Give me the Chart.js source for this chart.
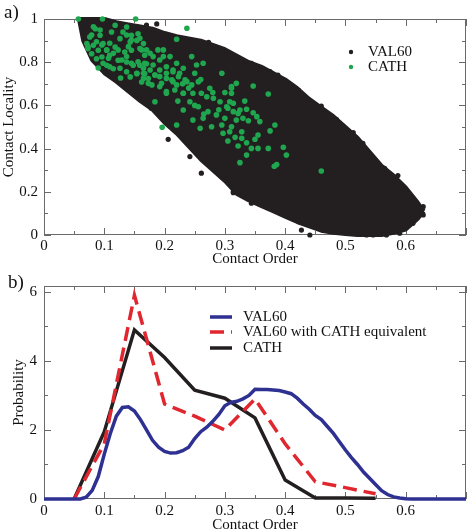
<!DOCTYPE html>
<html>
<head>
<meta charset="utf-8">
<script src="https://cdn.jsdelivr.net/npm/chart.js@4.4.1/dist/chart.umd.min.js"></script>
<style>
  html, body { margin: 0; padding: 0; background: #fff; }
  #wrap { position: relative; width: 469px; height: 531px; font-family: "Liberation Serif", "Times New Roman", serif; }
  canvas { position: absolute; left: 0; }
  #chartA { top: 0; }
  #chartB { top: 270px; }
  .tag { position: absolute; font-size: 19px; line-height: 19px; color: #111; }
</style>
</head>
<body>
<div id="wrap">
  <canvas id="chartA" width="469" height="270" style="width:469px;height:270px"></canvas>
  <canvas id="chartB" width="469" height="261" style="width:469px;height:261px"></canvas>
  <div class="tag" style="left:4px;top:2px">a)</div>
  <div class="tag" style="left:8px;top:272px">b)</div>
</div>
<script>
// ---------- panel a : contact locality vs contact order ----------
// outline of the dense VAL60 cloud (upper and lower edge)
const cloudX      = [0.058, 0.065, 0.08, 0.10, 0.12, 0.14, 0.16, 0.18, 0.20, 0.22, 0.24, 0.26, 0.28, 0.30, 0.32, 0.34, 0.36, 0.38, 0.40, 0.42, 0.44, 0.46, 0.48, 0.50, 0.52, 0.54, 0.56, 0.58, 0.60, 0.62, 0.63];
const cloudTop    = [1.0, 1.0, 1.0, 1.0, 0.985, 0.975, 0.965, 0.955, 0.935, 0.92, 0.91, 0.90, 0.88, 0.86, 0.83, 0.80, 0.78, 0.75, 0.72, 0.68, 0.63, 0.59, 0.55, 0.50, 0.45, 0.385, 0.32, 0.275, 0.22, 0.15, 0.11];
const cloudBottom = [1.0, 0.90, 0.81, 0.75, 0.71, 0.665, 0.62, 0.58, 0.52, 0.47, 0.41, 0.35, 0.30, 0.25, 0.19, 0.16, 0.135, 0.11, 0.085, 0.06, 0.04, 0.02, 0.01, 0.005, 0, 0, 0, 0.01, 0.025, 0.075, 0.11];

// loose VAL60 points round the edge of the cloud
const val60X = [0.170, 0.187, 0.273, 0.206, 0.225, 0.242, 0.261, 0.295, 0.314, 0.325, 0.165, 0.178, 0.314, 0.344, 0.375, 0.388, 0.422, 0.460, 0.485, 0.513, 0.529, 0.565, 0.587, 0.609, 0.629, 0.629, 0.612, 0.601, 0.590, 0.568, 0.546, 0.535, 0.441, 0.427, 0.344, 0.314];
const val60Y = [0.972, 0.977, 0.892, 0.443, 0.478, 0.363, 0.286, 0.270, 0.200, 0.224, 0.625, 0.587, 0.810, 0.795, 0.756, 0.740, 0.671, 0.597, 0.535, 0.474, 0.424, 0.309, 0.275, 0.162, 0.131, 0.093, 0.054, 0.038, 0.008, 0.0, 0.0, 0.0, 0.0, 0.023, 0.147, 0.196];

// CATH proteins
const cathX = [0.057, 0.097, 0.152, 0.090, 0.127, 0.237, 0.220, 0.196, 0.460, 0.386, 0.382,
  0.085, 0.076, 0.093, 0.071, 0.082, 0.098, 0.090, 0.104, 0.079, 0.096, 0.109, 0.118, 0.126, 0.131, 0.143, 0.154, 0.123, 0.134, 0.145, 0.159,
  0.167, 0.137, 0.148, 0.159, 0.170, 0.154, 0.167, 0.143, 0.162, 0.173, 0.104, 0.115, 0.087, 0.073, 0.112, 0.118, 0.137, 0.145, 0.156, 0.165,
  0.162, 0.176, 0.189, 0.198, 0.167, 0.181, 0.192, 0.165, 0.184, 0.203, 0.214, 0.225, 0.212, 0.195, 0.179, 0.220, 0.237, 0.245, 0.256, 0.250,
  0.253, 0.295, 0.275, 0.261, 0.247, 0.231, 0.203, 0.281, 0.292, 0.311, 0.319, 0.303, 0.242, 0.256, 0.272, 0.286, 0.300, 0.314, 0.264, 0.247,
  0.278, 0.295, 0.311, 0.259, 0.297, 0.220, 0.184, 0.231, 0.264, 0.245,
  0.311, 0.347, 0.372, 0.311, 0.308, 0.314, 0.333, 0.305, 0.325, 0.336, 0.322, 0.347, 0.330, 0.339, 0.319, 0.358, 0.353, 0.383, 0.308, 0.328,
  0.375, 0.317, 0.328, 0.355, 0.350, 0.305, 0.336, 0.322, 0.344, 0.355, 0.372, 0.397, 0.402, 0.336, 0.325,
  0.079, 0.087, 0.096, 0.104, 0.109, 0.115, 0.123, 0.107, 0.129, 0.137, 0.145, 0.156, 0.165, 0.176, 0.184, 0.192, 0.203, 0.214, 0.154, 0.165,
  0.173, 0.192, 0.203, 0.217, 0.231, 0.093, 0.082, 0.137, 0.145, 0.159, 0.140, 0.170, 0.181, 0.192, 0.203, 0.214, 0.223, 0.234, 0.198, 0.209,
  0.220, 0.231, 0.126, 0.137, 0.109, 0.098, 0.073,
  0.240, 0.260, 0.270, 0.222, 0.250, 0.280, 0.290, 0.230, 0.265, 0.300];
const cathY = [1.0, 1.0, 1.0, 0.773, 0.727, 0.957, 0.906, 0.499, 0.296, 0.326, 0.318,
  0.955, 0.917, 0.925, 0.886, 0.878, 0.886, 0.855, 0.855, 0.839, 0.824, 0.832, 0.870, 0.909, 0.940, 0.894, 0.901, 0.809, 0.847, 0.855, 0.863,
  0.832, 0.801, 0.786, 0.786, 0.793, 0.747, 0.747, 0.732, 0.708, 0.724, 0.786, 0.770, 0.816, 0.863, 0.940, 0.971, 0.963, 0.925, 0.932, 0.886,
  0.857, 0.841, 0.857, 0.826, 0.795, 0.787, 0.764, 0.749, 0.741, 0.749, 0.756, 0.749, 0.718, 0.702, 0.695, 0.695, 0.710, 0.695, 0.710, 0.749,
  0.787, 0.749, 0.679, 0.656, 0.656, 0.656, 0.656, 0.633, 0.617, 0.679, 0.702, 0.594, 0.617, 0.594, 0.571, 0.556, 0.540, 0.571, 0.540, 0.532,
  0.501, 0.509, 0.501, 0.494, 0.471, 0.509, 0.617, 0.579, 0.795, 0.826,
  0.687, 0.690, 0.653, 0.656, 0.617, 0.610, 0.620, 0.587, 0.579, 0.582, 0.563, 0.566, 0.540, 0.529, 0.532, 0.525, 0.548, 0.509, 0.478, 0.478,
  0.482, 0.452, 0.448, 0.463, 0.443, 0.435, 0.427, 0.412, 0.401, 0.401, 0.401, 0.406, 0.370, 0.370, 0.335,
  0.926, 0.895, 0.880, 0.857, 0.888, 0.841, 0.857, 0.818, 0.810, 0.826, 0.795, 0.802, 0.772, 0.764, 0.741, 0.733, 0.725, 0.710, 0.749, 0.725,
  0.702, 0.687, 0.664, 0.671, 0.656, 0.949, 0.964, 0.926, 0.903, 0.911, 0.872, 0.857, 0.826, 0.810, 0.779, 0.764, 0.733, 0.718, 0.857, 0.826,
  0.795, 0.772, 0.772, 0.756, 0.779, 0.795, 0.872,
  0.680, 0.720, 0.640, 0.620, 0.600, 0.660, 0.580, 0.700, 0.560, 0.660];

// ---------- panel b : probability of contact order ----------
const orderX = [0.00, 0.01, 0.02, 0.03, 0.04, 0.05, 0.06, 0.07, 0.08, 0.09, 0.10, 0.11, 0.12, 0.13, 0.14, 0.15, 0.16, 0.17, 0.18, 0.19,
  0.20, 0.21, 0.22, 0.23, 0.24, 0.25, 0.26, 0.27, 0.28, 0.29, 0.30, 0.31, 0.32, 0.33, 0.34, 0.35, 0.36, 0.37, 0.38, 0.39,
  0.40, 0.41, 0.42, 0.43, 0.44, 0.45, 0.46, 0.47, 0.48, 0.49, 0.50, 0.51, 0.52, 0.53, 0.54, 0.55, 0.56, 0.57, 0.58, 0.59,
  0.60, 0.61, 0.62, 0.63, 0.64, 0.65, 0.66, 0.67, 0.68, 0.69, 0.70];
const val60Prob = [0, 0, 0, 0, 0, 0, 0, 0.05, 0.25, 0.65, 1.3, 1.9, 2.4, 2.65, 2.67, 2.55, 2.3, 2.0, 1.7, 1.5,
  1.38, 1.33, 1.34, 1.4, 1.5, 1.75, 1.95, 2.08, 2.25, 2.45, 2.7, 2.8, 2.83, 2.9, 3.0, 3.18, 3.17, 3.17, 3.16, 3.14,
  3.1, 3.05, 2.92, 2.75, 2.6, 2.42, 2.3, 2.1, 1.9, 1.66, 1.42, 1.2, 1.0, 0.78, 0.6, 0.42, 0.24, 0.13, 0.06, 0.03,
  0.01, 0, 0, 0, 0, 0, 0, 0, 0, 0, 0];
const binX = [0.05, 0.10, 0.15, 0.20, 0.25, 0.30, 0.35, 0.40, 0.45, 0.50, 0.55];
const cathEquivProb = [0, 1.6, 5.9, 2.75, 2.4, 2.0, 2.9, 1.6, 0.5, 0.33, 0.15];
const cathProb = [0, 1.95, 4.9, 4.1, 3.15, 2.92, 2.35, 0.55, 0.03, 0.03, 0.02];

const black = '#231f20';
const green = '#1fa64f';
const blue = '#2e3192';
const red = '#e0262e';
const serif = '"Liberation Serif", "Times New Roman", serif';

Chart.defaults.font.family = serif;
Chart.defaults.color = '#111';

const pts = (xs, ys) => xs.map((x, i) => ({x: x, y: ys[i]}));

// frame on all four sides with inward major/minor ticks, plus a small legend
const frameTicks = {
  id: 'frameTicks',
  beforeDatasetsDraw(chart, args, opts) {
    const {ctx, chartArea: a, scales: {x, y}} = chart;
    ctx.save();
    ctx.strokeStyle = '#6a6a6a';
    ctx.lineWidth = 1;
    ctx.strokeRect(a.left + 0.5, a.top + 0.5, a.right - a.left - 1, a.bottom - a.top - 1);
    ctx.beginPath();
    let n = Math.round((x.max - x.min) / opts.xStep);
    for (let i = 0; i <= n; i++) {
      const p = Math.round(x.getPixelForValue(x.min + i * opts.xStep)) + 0.5;
      const len = i % 2 === 0 ? 7 : 4;
      ctx.moveTo(p, a.bottom); ctx.lineTo(p, a.bottom - len);
      ctx.moveTo(p, a.top); ctx.lineTo(p, a.top + len);
    }
    n = Math.floor((y.max - y.min) / opts.yStep + 1e-6);
    for (let i = 0; i <= n; i++) {
      const p = Math.round(y.getPixelForValue(y.min + i * opts.yStep)) + 0.5;
      const len = i % 2 === 0 ? 7 : 4;
      ctx.moveTo(a.left, p); ctx.lineTo(a.left + len, p);
      ctx.moveTo(a.right, p); ctx.lineTo(a.right - len, p);
    }
    ctx.stroke();
    ctx.restore();
  },
  afterDatasetsDraw(chart, args, opts) {
    const ctx = chart.ctx;
    ctx.save();
    ctx.font = '15px ' + serif;
    ctx.textBaseline = 'middle';
    ctx.fillStyle = '#111';
    opts.legend.forEach(item => {
      if (item.dot) {
        ctx.beginPath();
        ctx.fillStyle = item.color;
        ctx.arc(item.x, item.y, 2.2, 0, Math.PI * 2);
        ctx.fill();
      } else {
        ctx.beginPath();
        ctx.strokeStyle = item.color;
        ctx.lineWidth = 3.5;
        ctx.setLineDash(item.dash || []);
        ctx.moveTo(item.x, item.y);
        ctx.lineTo(item.x + 22, item.y);
        ctx.stroke();
        ctx.setLineDash([]);
      }
      ctx.fillStyle = '#111';
      ctx.fillText(item.label, item.tx, item.y + 0.5);
    });
    ctx.restore();
  }
};

const fmt = v => String(Math.round(v * 100) / 100);

function xScale(fitHeight, labelPad, titlePad) {
  return {
    type: 'linear', min: 0, max: 0.7,
    afterFit: s => { s.height = fitHeight; },
    grid: {display: false, drawTicks: false},
    border: {display: false},
    ticks: {stepSize: 0.1, padding: labelPad, font: {size: 15}, color: '#111',
      callback: v => v > 0.65 ? '' : fmt(v)},
    title: {display: true, text: 'Contact Order', font: {size: 15, lineHeight: 1}, color: '#111',
      padding: {top: 0, bottom: titlePad}}
  };
}

new Chart(document.getElementById('chartA'), {
  type: 'line',
  data: {
    datasets: [
      {label: 'CATH', data: pts(cathX, cathY), showLine: false, pointRadius: 2.8, pointHoverRadius: 2.8,
        pointBackgroundColor: green, pointBorderWidth: 0, order: 0, clip: false},
      {label: 'VAL60', data: pts(val60X, val60Y), showLine: false, pointRadius: 2.6, pointHoverRadius: 2.6,
        pointBackgroundColor: black, pointBorderWidth: 0, order: 1, clip: false},
      {label: 'VAL60 upper', data: pts(cloudX, cloudTop), borderColor: black, borderWidth: 4,
        borderJoinStyle: 'round', pointRadius: 0, fill: false, tension: 0, order: 2, clip: false},
      {label: 'VAL60 lower', data: pts(cloudX, cloudBottom), borderColor: black, borderWidth: 4,
        borderJoinStyle: 'round', pointRadius: 0, fill: '-1', backgroundColor: black, tension: 0, order: 3, clip: false}
    ]
  },
  options: {
    responsive: false, animation: false, events: [],
    layout: {padding: {top: 19, right: 3, left: 0, bottom: 0}},
    plugins: {
      legend: {display: false}, tooltip: {enabled: false},
      frameTicks: {xStep: 0.05, yStep: 0.1, legend: [
        {dot: true, color: black, x: 351, y: 52, tx: 368, label: 'VAL60'},
        {dot: true, color: green, x: 351, y: 67, tx: 368, label: 'CATH'}
      ]}
    },
    scales: {
      x: xScale(35, 2, 3),
      y: {
        min: 0, max: 1,
        afterFit: s => { s.width = 44; },
        grid: {display: false, drawTicks: false},
        border: {display: false},
        ticks: {stepSize: 0.2, padding: 6, font: {size: 15}, color: '#111', callback: fmt},
        title: {display: true, text: 'Contact Locality', font: {size: 15, lineHeight: 1}, color: '#111',
          padding: {top: 2, bottom: 0}}
      }
    }
  },
  plugins: [frameTicks]
});

new Chart(document.getElementById('chartB'), {
  type: 'line',
  data: {
    datasets: [
      {label: 'VAL60', data: pts(orderX, val60Prob), borderColor: blue, borderWidth: 3.5,
        pointRadius: 0, fill: false, tension: 0, clip: false},
      {label: 'VAL60 with CATH equivalent', data: pts(binX, cathEquivProb), borderColor: red, borderWidth: 3.5,
        borderDash: [14, 7], pointRadius: 0, fill: false, tension: 0, clip: false},
      {label: 'CATH', data: pts(binX, cathProb), borderColor: black, borderWidth: 3.5,
        pointRadius: 0, fill: false, tension: 0, clip: false}
    ]
  },
  options: {
    responsive: false, animation: false, events: [],
    layout: {padding: {top: 14, right: 3, left: 0, bottom: 0}},
    plugins: {
      legend: {display: false}, tooltip: {enabled: false},
      frameTicks: {xStep: 0.05, yStep: 1, legend: [
        {color: blue, x: 210, y: 47, tx: 243, label: 'VAL60'},
        {color: red, dash: [14, 7], x: 210, y: 62, tx: 243, label: 'VAL60 with CATH equivalent'},
        {color: black, x: 210, y: 78, tx: 243, label: 'CATH'}
      ]}
    },
    scales: {
      x: xScale(32, 3, -2),
      y: {
        min: 0, max: 6.17,
        afterFit: s => { s.width = 44; },
        grid: {display: false, drawTicks: false},
        border: {display: false},
        ticks: {stepSize: 2, includeBounds: false, padding: 7, font: {size: 15}, color: '#111', callback: fmt},
        title: {display: true, text: 'Probability', font: {size: 15, lineHeight: 1}, color: '#111',
          padding: {top: 12, bottom: 0}}
      }
    }
  },
  plugins: [frameTicks]
});
</script>
</body>
</html>
